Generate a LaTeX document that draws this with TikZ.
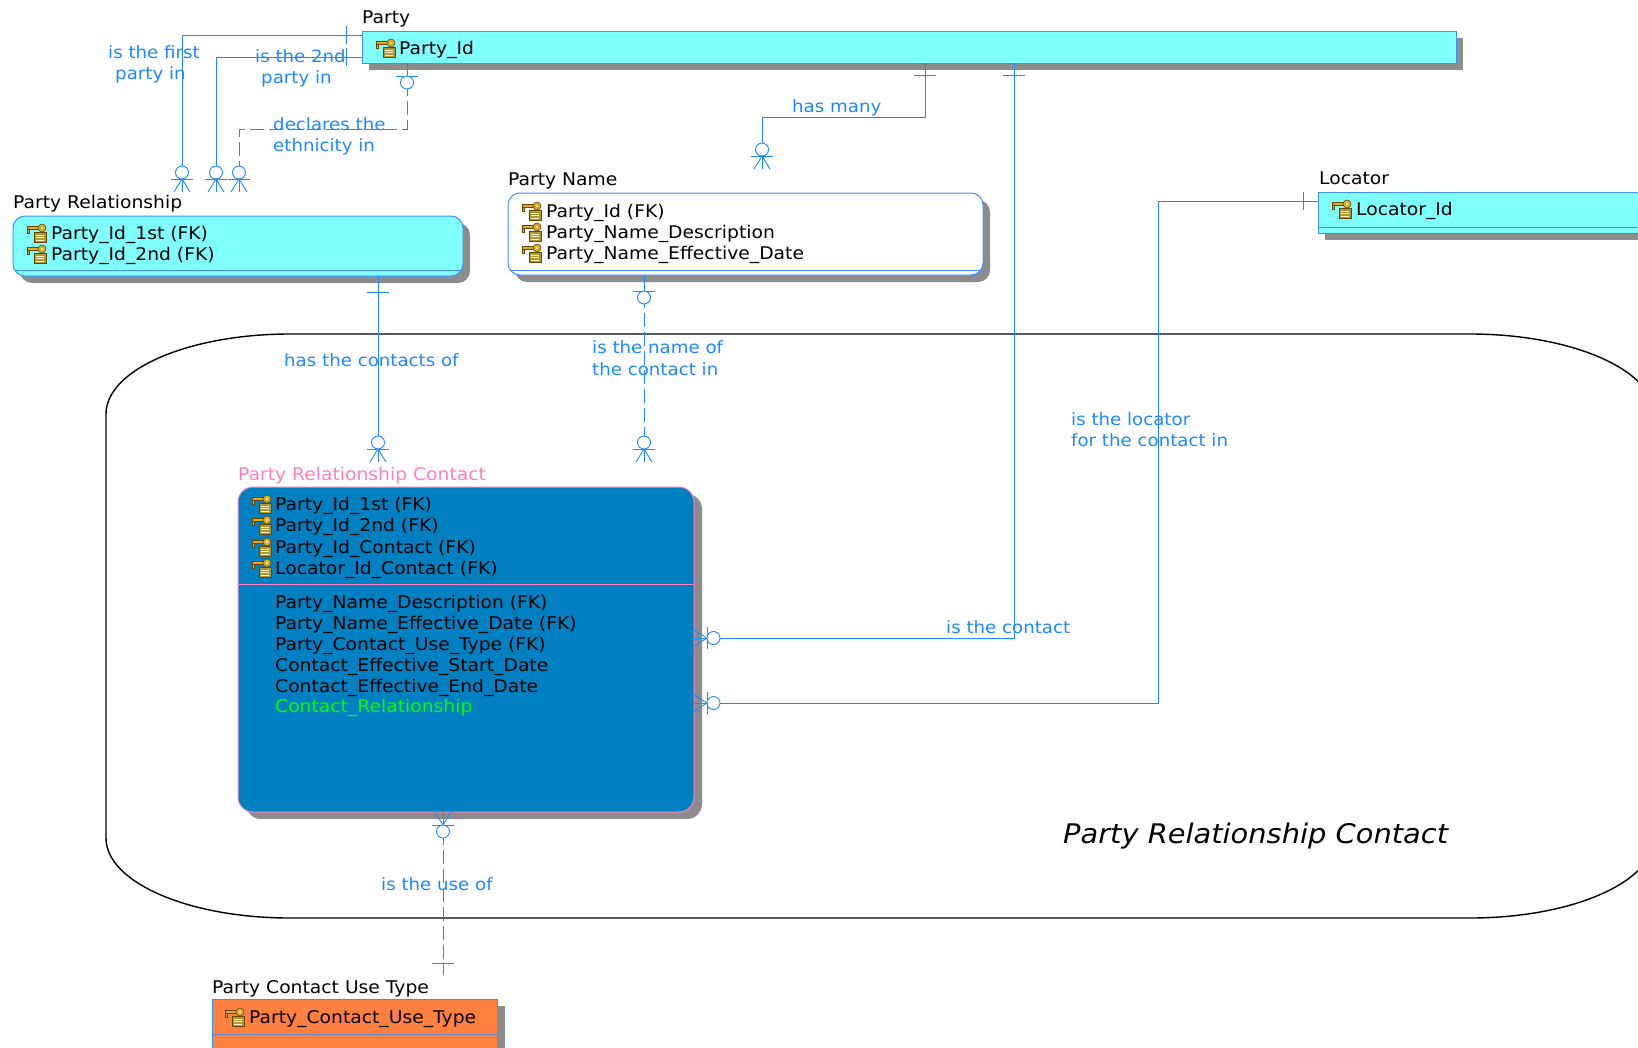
\documentclass[tikz,border=0pt]{standalone}
\usepackage{fontspec}
\newfontfamily\erfont[FakeStretch=1.07]{DejaVu Sans}
\usetikzlibrary{shadows}
\definecolor{relblue}{RGB}{30,136,255}
\definecolor{boxblue}{RGB}{64,144,255}
\definecolor{cyanfill}{RGB}{128,255,255}
\definecolor{prcfill}{RGB}{0,128,192}
\definecolor{prcpink}{RGB}{255,128,192}
\definecolor{orangefill}{RGB}{255,128,64}
\definecolor{shadowgray}{RGB}{140,140,140}
\definecolor{keygold}{RGB}{222,170,40}
\definecolor{keydark}{RGB}{100,72,0}
\definecolor{tablefill}{RGB}{180,150,50}
\definecolor{tableline}{RGB}{255,245,200}
\definecolor{attrgreen}{RGB}{0,255,0}
\begin{document}
\begin{tikzpicture}[x=1pt,y=-1pt,
  txt/.style={anchor=base west, inner sep=0pt, font=\erfont\fontsize{17.5}{21}\selectfont},
  rlabel/.style={anchor=base west, inner sep=0pt, font=\erfont\fontsize{17}{21}\selectfont, text=relblue},
  rel/.style={draw=relblue, line width=0.9pt},
  reldash/.style={rel, dash pattern=on 14pt off 5pt},
  entitybox/.style={anchor=north west, inner sep=0pt, outer sep=0pt, line width=1pt},
  eshadow/.style={drop shadow={shadow xshift=7pt, shadow yshift=-7pt, fill=shadowgray, opacity=1}},
  zmany/.pic={
    \draw[rel] (0,0) -- (13,0);
    \draw[rel] (0,-8) -- (13,0) -- (0,8);
    \draw[rel] (13,-11) -- (13,11);
    \draw[rel, fill=white] (19.5,0) circle[radius=6.5];
  },
  zone/.pic={
    \draw[rel] (0,0) -- (13,0);
    \draw[rel] (13,-11) -- (13,11);
    \draw[rel, fill=white] (19.5,0) circle[radius=6.5];
  },
  keyicon/.pic={
    \draw[keydark, fill=tablefill, line width=0.6pt] (-3,-1) rectangle (9,9);
    \draw[tableline, line width=0.8pt] (-1,2) -- (7,2) (-1,4.5) -- (7,4.5) (-1,7) -- (7,7);
    \draw[keydark, fill=keygold, line width=0.6pt] (-10,-6.5) rectangle (2,-3.5);
    \draw[keydark, fill=keygold, line width=0.6pt] (-10,-3.5) rectangle (-7.5,0);
    \draw[keydark, fill=keygold, line width=0.6pt] (5,-5) circle[radius=4];
    \fill[white] (5,-5) circle[radius=1.2];
  }
]
\useasboundingbox (0,0) rectangle (1638,1047);
\clip (0,0) rectangle (1638,1047);

% subject area
\draw[black, line width=1.4pt] (290,334) -- (1470,334)
  .. controls (1571.6,334) and (1654,369.8) .. (1654,414) -- (1654,838)
  .. controls (1654,882.2) and (1571.6,918) .. (1470,918) -- (290,918)
  .. controls (188.4,918) and (106,882.2) .. (106,838) -- (106,414)
  .. controls (106,369.8) and (188.4,334) .. (290,334) -- cycle;
\node[anchor=base west, inner sep=0pt, font=\erfont\itshape\fontsize{27}{32}\selectfont] (title) at (1063,843) {Party Relationship Contact};

% ---------- entities ----------
% Party
\node[entitybox, fill=cyanfill, draw=boxblue, minimum width=1094pt, minimum height=32pt, eshadow] (party) at (362,31) {};
\node[txt] (partylbl) at (362,23) {Party};
\pic at (386,48) {keyicon};
\node[txt] (partyid) at (399,54) {Party\_Id};

% Party Relationship
\node[entitybox, rounded corners=12pt, fill=cyanfill, draw=boxblue, minimum width=450pt, minimum height=60pt, eshadow] (prel) at (13,216) {};
\draw[boxblue, line width=1pt] (15,270) -- (461,270);
\node[txt] (prellbl) at (13,208) {Party Relationship};
\pic at (37,233) {keyicon};
\node[txt] (prelr1) at (51,239) {Party\_Id\_1st (FK)};
\pic at (37,254) {keyicon};
\node[txt] (prelr2) at (51,260) {Party\_Id\_2nd (FK)};

% Party Name
\node[entitybox, rounded corners=12pt, fill=white, draw=boxblue, minimum width=475pt, minimum height=82pt, eshadow] (pname) at (508,193) {};
\draw[boxblue, line width=1pt] (510,270) -- (981,270);
\node[txt] (pnamelbl) at (508,185) {Party Name};
\pic at (532,211) {keyicon};
\node[txt] (pnamer1) at (546,217) {Party\_Id (FK)};
\pic at (532,232) {keyicon};
\node[txt] (pnamer2) at (546,238) {Party\_Name\_Description};
\pic at (532,253) {keyicon};
\node[txt] (pnamer3) at (546,259) {Party\_Name\_Effective\_Date};

% Locator
\node[entitybox, fill=cyanfill, draw=boxblue, minimum width=382pt, minimum height=41pt, eshadow] (loc) at (1318,192) {};
\draw[boxblue, line width=1pt] (1318,227) -- (1638,227);
\node[txt] (loclbl) at (1319,184) {Locator};
\pic at (1342,209) {keyicon};
\node[txt] (locid) at (1356,215) {Locator\_Id};

% Party Relationship Contact
\node[entitybox, rounded corners=15pt, fill=prcfill, draw=prcpink, minimum width=456pt, minimum height=325pt,
  drop shadow={shadow xshift=8pt, shadow yshift=-7pt, fill=shadowgray, opacity=1}] (prc) at (238,487) {};
\draw[prcpink, line width=1pt] (239,584) -- (693,584);
\node[txt, text=prcpink] (prclbl) at (238,480) {Party Relationship Contact};
\pic at (262,504) {keyicon};
\node[txt] (prck1) at (275,510) {Party\_Id\_1st (FK)};
\pic at (262,525) {keyicon};
\node[txt] (prck2) at (275,531) {Party\_Id\_2nd (FK)};
\pic at (262,547) {keyicon};
\node[txt] (prck3) at (275,553) {Party\_Id\_Contact (FK)};
\pic at (262,568) {keyicon};
\node[txt] (prck4) at (275,574) {Locator\_Id\_Contact (FK)};
\node[txt] (prca1) at (275,608) {Party\_Name\_Description (FK)};
\node[txt] (prca2) at (275,629) {Party\_Name\_Effective\_Date (FK)};
\node[txt] (prca3) at (275,650) {Party\_Contact\_Use\_Type (FK)};
\node[txt] (prca4) at (275,671) {Contact\_Effective\_Start\_Date};
\node[txt] (prca5) at (275,692) {Contact\_Effective\_End\_Date};
\node[txt, text=attrgreen] (prca6) at (275,712) {Contact\_Relationship};

% Party Contact Use Type
\node[entitybox, fill=orangefill, draw=boxblue, minimum width=285pt, minimum height=61pt,
  drop shadow={shadow xshift=8pt, shadow yshift=-7pt, fill=shadowgray, opacity=1}] (pcut) at (212,999) {};
\draw[boxblue!60!gray, line width=1pt] (212,1034) -- (497,1034);
\node[txt] (pcutlbl) at (212,993) {Party Contact Use Type};
\pic at (235,1017) {keyicon};
\node[txt] (pcutr1) at (249,1023) {Party\_Contact\_Use\_Type};

% ---------- connectors ----------
% is the first party in
\coordinate (c1a) at (362,35); \coordinate (c1b) at (182,35); \coordinate (c1c) at (182,192);
\draw[rel] (c1a) -- (c1b) -- (c1c);
\draw[rel] (346,26) -- (346,44);
\pic[rotate=90] at (c1c) {zmany};
% is the 2nd party in
\coordinate (c2a) at (362,57); \coordinate (c2b) at (216,57); \coordinate (c2c) at (216,192);
\draw[rel] (c2a) -- (c2b) -- (c2c);
\draw[rel] (346,48) -- (346,66);
\pic[rotate=90] at (c2c) {zmany};
% declares the ethnicity in
\coordinate (c3a) at (407,63); \coordinate (c3b) at (407,129); \coordinate (c3c) at (239,129); \coordinate (c3d) at (239,192);
\draw[reldash] (c3a) -- (c3b) -- (c3c) -- (c3d);
\pic[rotate=-90] at (c3a) {zone};
\pic[rotate=90] at (c3d) {zmany};
% has many
\coordinate (c4a) at (925,63); \coordinate (c4b) at (925,117); \coordinate (c4c) at (762,117); \coordinate (c4d) at (762,169);
\draw[rel] (c4a) -- (c4b) -- (c4c) -- (c4d);
\draw[rel] (914,75) -- (936,75);
\pic[rotate=90] at (c4d) {zmany};
% is the contact
\coordinate (c5a) at (1014,63); \coordinate (c5b) at (1014,638); \coordinate (c5c) at (694,638);
\draw[rel] (c5a) -- (c5b) -- (c5c);
\draw[rel] (1003,75) -- (1025,75);
\pic at (c5c) {zmany};
% is the locator for the contact in
\coordinate (c6a) at (1318,201); \coordinate (c6b) at (1158,201); \coordinate (c6c) at (1158,703); \coordinate (c6d) at (694,703);
\draw[rel] (c6a) -- (c6b) -- (c6c) -- (c6d);
\draw[rel] (1303,192) -- (1303,210);
\pic at (c6d) {zmany};
% has the contacts of
\coordinate (c7a) at (378,276); \coordinate (c7b) at (378,462);
\draw[rel] (c7a) -- (c7b);
\draw[rel] (367,292) -- (389,292);
\pic[rotate=90] at (c7b) {zmany};
% is the name of the contact in
\coordinate (c8a) at (644,275); \coordinate (c8b) at (644,462);
\draw[reldash] (c8a) -- (c8b);
\pic[rotate=-90] at (644,278) {zone};
\pic[rotate=90] at (c8b) {zmany};
% is the use of
\coordinate (c9a) at (443,812); \coordinate (c9b) at (443,975);
\draw[reldash] (c9a) -- (c9b);
\draw[rel] (432,963) -- (454,963);
\pic[rotate=-90] at (c9a) {zmany};

% ---------- relationship labels ----------
\node[rlabel] (l1a) at (108,58) {is the first};
\node[rlabel] (l1b) at (115,79) {party in};
\node[rlabel] (l2a) at (255,62) {is the 2nd};
\node[rlabel] (l2b) at (261,83) {party in};
\node[rlabel] (l3a) at (273,130) {declares the};
\node[rlabel] (l3b) at (273,151) {ethnicity in};
\node[rlabel] (l4) at (792,112) {has many};
\node[rlabel] (l5) at (946,633) {is the contact};
\node[rlabel] (l6a) at (1071,425) {is the locator};
\node[rlabel] (l6b) at (1071,446) {for the contact in};
\node[rlabel] (l7) at (284,366) {has the contacts of};
\node[rlabel] (l8a) at (592,353) {is the name of};
\node[rlabel] (l8b) at (592,375) {the contact in};
\node[rlabel] (l9) at (381,890) {is the use of};
\end{tikzpicture}
\end{document}
